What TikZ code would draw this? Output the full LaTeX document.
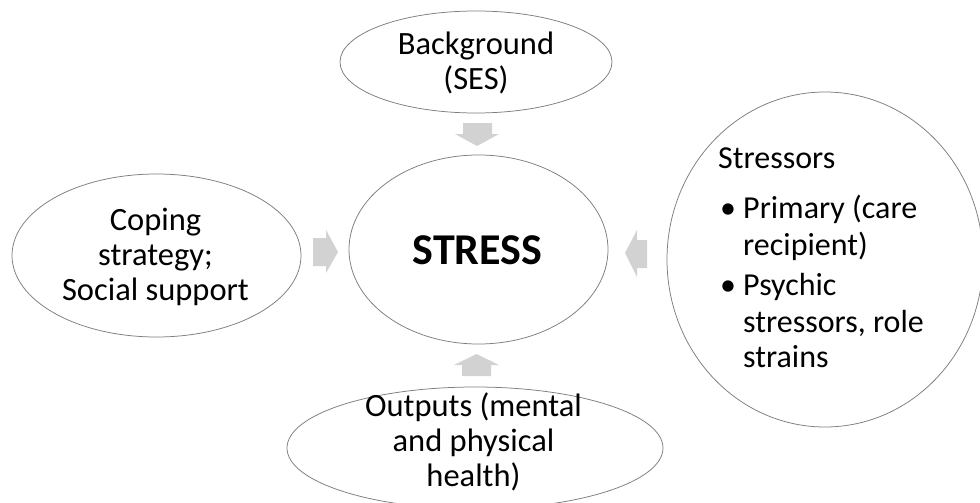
\documentclass[tikz,border=0pt]{standalone}
\usepackage{fontspec}
\setmainfont{Carlito}
\usetikzlibrary{shapes.geometric}
\definecolor{edgegray}{RGB}{125,125,125}
\definecolor{arrowgray}{RGB}{210,210,210}
\begin{document}
\begin{tikzpicture}[x=1pt,y=-1pt,
  ell/.style={ellipse, draw=edgegray, line width=0.75pt, inner sep=0pt, fill=white},
  txt/.style={align=center, font=\fontsize{32.5}{35}\selectfont, inner sep=0pt},
  ln/.style={anchor=base west, font=\fontsize{32}{35}\selectfont, inner sep=0pt},
  blockarrow/.style={fill=arrowgray, draw=none}]
\fill[white] (0,0) rectangle (980,503);
\useasboundingbox (0,0) rectangle (980,503);
% ellipses
\node[ell, minimum width=272pt, minimum height=102pt] (bg) at (476,62) {};
\node[ell, minimum width=289pt, minimum height=163pt] (cope) at (156.5,255.5) {};
\node[ell, minimum width=259pt, minimum height=189pt] (stress) at (478.5,249.5) {};
\node[ell, minimum width=316pt, minimum height=335pt] (stressors) at (825,259.5) {};
\node[ell, minimum width=376pt, minimum height=122pt] (out) at (475,448) {};
% texts
\node[txt] (bgt) at (bg.center) [yshift=-1pt] {Background\\(SES)};
\node[txt] (copet) at (155.5,256.5) {Coping\\strategy;\\Social support};
\node[inner sep=0pt, font=\fontsize{44}{48}\selectfont\bfseries] (stresst) at (477.5,250) {STRESS};
\node[txt] (outt) at (473.5,442) {Outputs (mental\\and physical\\health)};
\node[ln] (s0) at (718,168) {Stressors};
\node[ln] (s1b) at (720,218) {•};
\node[ln] (s1) at (743,218) {Primary (care};
\node[ln] (s1c) at (743,255) {recipient)};
\node[ln] (s2b) at (720,295) {•};
\node[ln] (s2) at (743,295) {Psychic};
\node[ln] (s2c) at (743,332) {stressors, role};
\node[ln] (s2d) at (743,367) {strains};
% block arrows
\fill[blockarrow] (463,123) -- (492,123) -- (492,134) -- (499,134) -- (477,146) -- (455,134) -- (463,134) -- cycle;
\fill[blockarrow] (462,376) -- (491,376) -- (491,365) -- (499,365) -- (476.5,354) -- (454,365) -- (462,365) -- cycle;
\fill[blockarrow] (313,238) -- (326,238) -- (326,230) -- (338,252) -- (326,273) -- (326,266) -- (313,266) -- cycle;
\fill[blockarrow] (647,240) -- (637,240) -- (637,230) -- (625,253) -- (637,277) -- (637,268) -- (647,268) -- cycle;
\end{tikzpicture}
\end{document}
